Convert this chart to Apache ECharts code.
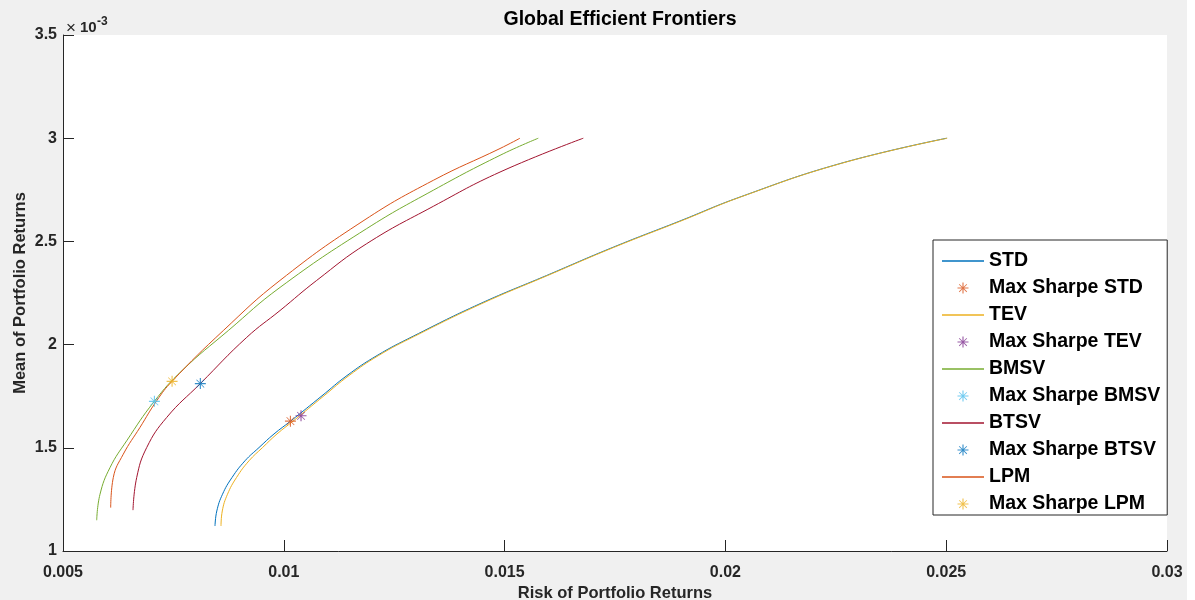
<!DOCTYPE html>
<html><head><meta charset="utf-8">
<script src="https://cdn.jsdelivr.net/npm/echarts@6/dist/echarts.min.js"></script>
<style>html,body{margin:0;padding:0;background:#fff}#c{width:1195px;height:600px}</style>
</head><body><div id="c"></div>
<script>
// Mean values are in units of 1e-3
const stdRisk = [0.008442,0.008483,0.008612,0.008827,0.009121,0.009438,0.009778,0.010152,0.010865,0.011431,0.012111,0.012933,0.014443,0.015953,0.017461,0.018972,0.020331,0.022595,0.025011];
const stdMean = [1.121,1.194,1.275,1.356,1.437,1.501,1.567,1.629,1.752,1.850,1.947,2.041,2.198,2.335,2.472,2.599,2.715,2.877,3.000];
const tevRisk = [0.008578,0.008607,0.008725,0.008929,0.009212,0.009518,0.009846,0.010208,0.010910,0.011476,0.012145,0.012966,0.014477,0.015976,0.017484,0.018995,0.020342,0.022607,0.025023];
const tevMean = [1.121,1.194,1.275,1.356,1.437,1.501,1.567,1.629,1.752,1.850,1.947,2.041,2.198,2.335,2.472,2.599,2.715,2.877,3.000];
const bmsvRisk = [0.005763,0.005838,0.006064,0.006442,0.007067,0.007695,0.008743,0.009914,0.011877,0.013386,0.014896,0.015763];
const bmsvMean = [1.149,1.275,1.404,1.534,1.725,1.874,2.068,2.277,2.562,2.748,2.917,3.000];
const btsvRisk = [0.006585,0.006669,0.006895,0.007348,0.008109,0.009160,0.009914,0.010745,0.011877,0.013386,0.014896,0.016782];
const btsvMean = [1.198,1.356,1.501,1.647,1.811,2.035,2.165,2.311,2.489,2.670,2.836,3.000];
const lpmRisk = [0.006080,0.006139,0.006365,0.006744,0.007122,0.007468,0.008630,0.009914,0.011816,0.013386,0.014896,0.015349];
const lpmMean = [1.210,1.356,1.469,1.599,1.728,1.822,2.068,2.311,2.602,2.796,2.950,3.000];
const maxSharpeStd = [0.01015, 1.629];
const maxSharpeTev = [0.01039, 1.655];
const maxSharpeBmsv = [0.00707, 1.725];
const maxSharpeBtsv = [0.00811, 1.811];
const maxSharpeLpm = [0.00747, 1.822];
const names = ['STD','Max Sharpe STD','TEV','Max Sharpe TEV','BMSV','Max Sharpe BMSV','BTSV','Max Sharpe BTSV','LPM','Max Sharpe LPM'];
const colors = ['#0072BD','#D95319','#EDB120','#7E2F8E','#77AC30','#4DBEEE','#A2142F','#0072BD','#D95319','#EDB120'];

const STAR = 'path://M-10,-1L10,-1L10,1L-10,1Z M-1,-10L1,-10L1,10L-1,10Z M-6.5,-7.5L7.5,6.5L6.5,7.5L-7.5,-6.5Z M6.5,-7.5L7.5,-6.5L-6.5,7.5L-7.5,6.5Z';
const LINEICON = 'path://M0,0L42,0L42,1.3L0,1.3Z';
const FONT = '"Liberation Sans", Arial, Helvetica, sans-serif';
const zip = (a, b) => a.map((v, i) => [v, b[i]]);

const lines = [[stdRisk, stdMean],[tevRisk, tevMean],[bmsvRisk, bmsvMean],[btsvRisk, btsvMean],[lpmRisk, lpmMean]];
const stars = [maxSharpeStd, maxSharpeTev, maxSharpeBmsv, maxSharpeBtsv, maxSharpeLpm];
const series = [];
for (let k = 0; k < 5; k++) {
  const lc = colors[2*k], sc = colors[2*k+1];
  series.push({
    name: names[2*k], type: 'line', data: zip(lines[k][0], lines[k][1]),
    showSymbol: false, symbol: 'none', smooth: 0.45,
    lineStyle: {width: 1, color: lc}, itemStyle: {color: lc}, z: 2
  });
  series.push({
    name: names[2*k+1], type: 'scatter', data: [stars[k]],
    symbol: STAR, symbolSize: 11, itemStyle: {color: sc}, z: 3
  });
}

const chart = echarts.init(document.getElementById('c'), null, {renderer: 'canvas'});
chart.setOption({
  animation: false,
  backgroundColor: '#f0f0f0',
  title: {
    text: 'Global Efficient Frontiers', left: 615, textAlign: 'center', top: 5,
    textStyle: {fontFamily: FONT, fontSize: 19.5, fontWeight: 'bold', color: '#000'}
  },
  grid: {left: 63, right: 28, top: 35, bottom: 49, outerBoundsMode: 'none', containLabel: false,
    show: true, backgroundColor: '#ffffff', borderWidth: 0},
  xAxis: {
    type: 'value', min: 0.005, max: 0.03, interval: 0.005,
    name: 'Risk of Portfolio Returns', nameLocation: 'middle', nameGap: 34, nameMoveOverlap: false,
    nameTextStyle: {fontFamily: FONT, fontSize: 16.5, fontWeight: 'bold', color: '#262626'},
    axisLine: {lineStyle: {color: '#262626', width: 1}},
    axisTick: {inside: true, length: 11, lineStyle: {color: '#262626'}},
    axisLabel: {margin: 14, fontFamily: FONT, fontSize: 16, fontWeight: 'bold', color: '#262626',
      formatter: v => String(+v.toFixed(3))},
    splitLine: {show: false}
  },
  yAxis: {
    type: 'value', min: 1, max: 3.5, interval: 0.5,
    name: 'Mean of Portfolio Returns', nameLocation: 'middle', nameGap: 34, nameRotate: 90, nameMoveOverlap: false,
    nameTextStyle: {fontFamily: FONT, fontSize: 16.5, fontWeight: 'bold', color: '#262626'},
    axisLine: {show: true, lineStyle: {color: '#262626', width: 1}},
    axisTick: {show: true, inside: true, length: 11, lineStyle: {color: '#262626'}},
    axisLabel: {margin: 6, fontFamily: FONT, fontSize: 16, fontWeight: 'bold', color: '#262626',
      formatter: v => String(+v.toFixed(1))},
    splitLine: {show: false}
  },
  legend: {
    orient: 'vertical', left: 933, top: 240,
    itemWidth: 42, itemHeight: 11, itemGap: 7, itemTextGap: 4,
    padding: [11, 7, 1, 9],
    backgroundColor: '#ffffff', borderColor: '#262626', borderWidth: 1,
    selectedMode: false,
    textStyle: {fontFamily: FONT, fontSize: 19.5, fontWeight: 'bold', color: '#000', lineHeight: 20},
    data: names.map((n, i) => ({name: n, icon: i % 2 === 0 ? LINEICON : STAR, itemStyle: {borderWidth: 0}}))
  },
  graphic: [
    {type: 'rect', left: 1187, top: 0, shape: {width: 8, height: 600}, style: {fill: '#ffffff'}, silent: true},
    {type: 'text', x: 66, y: 28, style: {text: '×', fontFamily: FONT, fontSize: 17, fill: '#262626', verticalAlign: 'middle'}},
    {type: 'text', x: 80, y: 28, style: {text: '10', fontFamily: FONT, fontSize: 15, fontWeight: 'bold', fill: '#262626', verticalAlign: 'middle'}},
    {type: 'text', x: 97, y: 22, style: {text: '-3', fontFamily: FONT, fontSize: 12, fontWeight: 'bold', fill: '#262626', verticalAlign: 'middle'}}
  ],
  series: series
});
</script></body></html>
